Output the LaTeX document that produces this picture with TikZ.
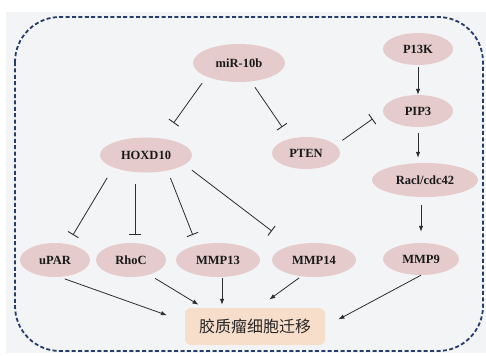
\documentclass[tikz,border=0pt]{standalone}
\usepackage{fontspec}
\setmainfont{Liberation Serif}
\newfontfamily\cjk{Noto Sans CJK SC}
\usetikzlibrary{shapes.geometric,arrows.meta}
\definecolor{bgc}{RGB}{243,244,246}
\definecolor{dashc}{RGB}{35,60,108}
\definecolor{ellc}{RGB}{229,203,203}
\definecolor{tgtc}{RGB}{247,222,203}
\definecolor{linec}{RGB}{45,45,45}
\tikzset{
  gene/.style={ellipse, fill=ellc, inner sep=0pt, font=\fontsize{12.5}{14}\selectfont\bfseries, text=black!90},
  inh/.style={draw=linec, line width=0.8pt, -{Bar[width=12pt,line width=0.9pt]}},
  act/.style={draw=linec, line width=0.8pt, -{Latex[length=6pt,width=4.5pt]}},
}
\begin{document}
\begin{tikzpicture}[x=1pt,y=-1pt]
\useasboundingbox (0,0) rectangle (486,356);
\fill[bgc] (6,12) rectangle (486,353);
\draw[dashc, line width=1.8pt, dash pattern=on 4pt off 2.4pt, rounded corners=45pt] (15,17) rectangle (483,351);

\node[gene, minimum width=92pt, minimum height=38pt] (miR) at (239,63) {miR-10b};
\node[gene, minimum width=70pt, minimum height=32pt] (PK) at (418,49) {P13K};
\node[gene, minimum width=70pt, minimum height=32pt] (PIP) at (418,111) {PIP3};
\node[gene, minimum width=92pt, minimum height=35pt] (HOX) at (146,155) {HOXD10};
\node[gene, minimum width=68pt, minimum height=32pt] (PTEN) at (306,153) {PTEN};
\node[gene, minimum width=106pt, minimum height=34pt] (Rac) at (425,180) {Racl/cdc42};
\node[gene, minimum width=70pt, minimum height=34pt] (uPAR) at (55,260) {uPAR};
\node[gene, minimum width=70pt, minimum height=34pt] (RhoC) at (131,260) {RhoC};
\node[gene, minimum width=84pt, minimum height=34pt] (M13) at (218,260) {MMP13};
\node[gene, minimum width=84pt, minimum height=34pt] (M14) at (314,260) {MMP14};
\node[gene, minimum width=76pt, minimum height=32pt] (M9) at (421,259) {MMP9};
\node[rectangle, rounded corners=6pt, fill=tgtc, minimum width=140pt, minimum height=37pt, inner sep=0pt, font=\cjk\fontsize{16}{18}\selectfont, text=black!85] (tgt) at (255,326.5) {胶质瘤细胞迁移};

% inhibitions
\draw[inh, shorten <=8pt, shorten >=19pt] (miR.203) -- (HOX.45);
\draw[inh, shorten <=7pt, shorten >=14pt] (miR.303) -- (PTEN.138);
\draw[inh, shorten <=8pt, shorten >=12.5pt] (PTEN.15) -- (PIP.181);
\draw[inh, shorten <=12pt, shorten >=10.5pt] (HOX.201) -- (uPAR.52);
\draw[inh, shorten <=11pt, shorten >=8pt] ([xshift=4pt]RhoC.north |- HOX.south) -- ([xshift=4pt]RhoC.north);
\draw[inh, shorten <=8pt, shorten >=11pt] (HOX.324) -- (M13.145);
\draw[inh, shorten <=9pt, shorten >=24pt] (HOX.346) -- (M14.148);

% activations
\draw[act, shorten <=2pt] (PK) -- (PIP);
\draw[act, shorten <=6pt, shorten >=5pt] (PIP.south) -- (PIP.south |- Rac.north);
\draw[act, shorten <=8pt, shorten >=11pt] (M9.north |- Rac.south) -- (M9.north);
\draw[act, shorten <=5pt, shorten >=19pt] ([xshift=5pt]uPAR.south) -- (tgt.176);
\draw[act, shorten <=7pt, shorten >=6pt] (RhoC.321) -- (tgt.160);
\draw[act, shorten <=1pt, shorten >=3pt] ([xshift=4pt]M13.south) -- ([xshift=4pt]M13.south |- tgt.north);
\draw[act, shorten <=2.5pt, shorten >=14pt] (M14.232) -- (tgt.81);
\draw[act, shorten >=15pt] (M9.south) -- (tgt.east);
\end{tikzpicture}
\end{document}
